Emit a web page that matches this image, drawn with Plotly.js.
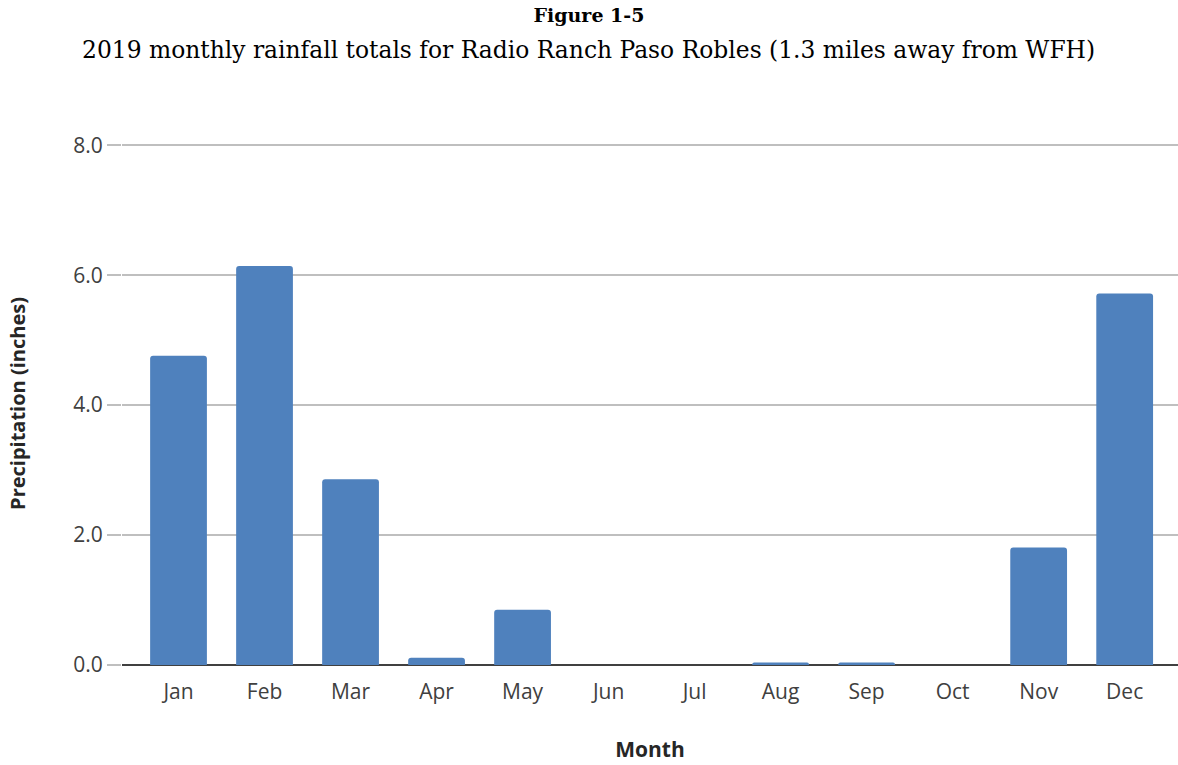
<!DOCTYPE html>
<html>
<head>
<meta charset="utf-8">
<script src="https://cdn.plot.ly/plotly-3.0.1.min.js"></script>
<style>html,body{margin:0;padding:0;background:#fff;}#chart{width:1178px;height:765px;}</style>
</head>
<body>
<div id="chart"></div>
<script>
const months = ["Jan","Feb","Mar","Apr","May","Jun","Jul","Aug","Sep","Oct","Nov","Dec"];
const rainfall = [4.76, 6.14, 2.86, 0.11, 0.85, 0, 0, 0.04, 0.04, 0, 1.81, 5.72];
const yTicks = [0, 2, 4, 6, 8];
const yTickLabels = ["0.0", "2.0", "4.0", "6.0", "8.0"];
const figureTitle = "Figure 1-5";
const subTitle = "2019 monthly rainfall totals for Radio Ranch Paso Robles (1.3 miles away from WFH)";
const xTitle = "Month";
const yTitle = "Precipitation (inches)";

const trace = {
  type: "bar",
  x: months,
  y: rainfall,
  marker: {color: "#4f81bd", cornerradius: 3},
  hoverinfo: "x+y"
};

const layout = {
  width: 1178,
  height: 765,
  margin: {l: 122, r: 0, t: 142, b: 100},
  paper_bgcolor: "#ffffff",
  plot_bgcolor: "#ffffff",
  showlegend: false,
  bargap: 0.34,
  title: {
    text: "<b>" + figureTitle + "</b>",
    font: {family: "DejaVu Serif", size: 19, color: "#000000"},
    xref: "container", x: 0.5, xanchor: "center",
    yref: "container", y: 1 - 15/765, yanchor: "middle"
  },
  annotations: [{
    text: subTitle,
    xref: "paper", x: (588 - 122) / 1056, xanchor: "center",
    yref: "paper", y: (665 - 50) / 523, yanchor: "middle",
    showarrow: false,
    font: {family: "DejaVu Serif", size: 23.4, color: "#000000"}
  }],
  xaxis: {
    type: "category",
    range: [-0.657, 11.62],
    showgrid: false,
    zeroline: false,
    showline: false,
    ticks: "",
    ticklabelstandoff: 12,
    tickfont: {family: "Open Sans", size: 21, color: "#404040"},
    title: {text: "<b>" + xTitle + "</b>", font: {family: "Open Sans", size: 21, color: "#262626"}, standoff: 38},
    fixedrange: true
  },
  yaxis: {
    range: [0, 8.05],
    tickvals: yTicks,
    ticktext: yTickLabels,
    showgrid: true,
    gridcolor: "#bfbfbf",
    gridwidth: 2,
    zeroline: true,
    zerolinecolor: "#404040",
    zerolinewidth: 2,
    showline: false,
    ticks: "outside",
    ticklen: 14,
    tickwidth: 2,
    tickcolor: "#bfbfbf",
    tickfont: {family: "Open Sans", size: 21, color: "#404040"},
    title: {text: "<b>" + yTitle + "</b>", font: {family: "Open Sans", size: 20, color: "#262626"}, standoff: 42},
    fixedrange: true
  }
};

Plotly.newPlot("chart", [trace], layout, {displayModeBar: false, staticPlot: true});
</script>
</body>
</html>
